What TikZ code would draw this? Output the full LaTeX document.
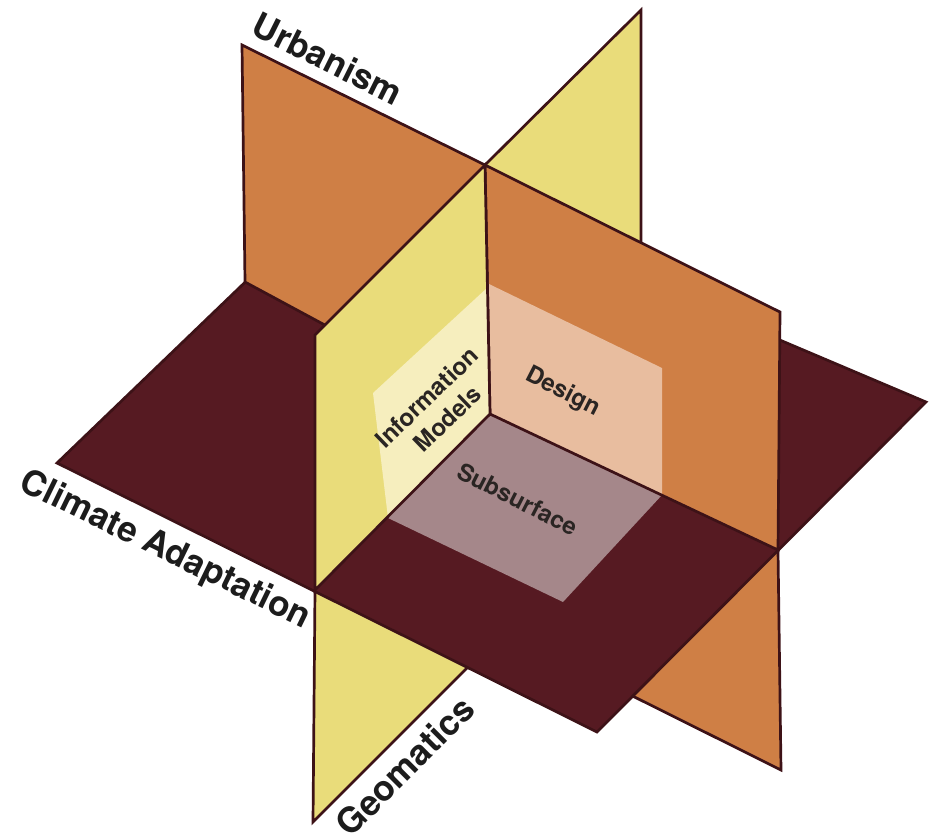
\documentclass[tikz,border=0pt]{standalone}
\usepackage{fontspec}
\setmainfont{TeX Gyre Heros}
\definecolor{orangeplane}{HTML}{CF7F45}
\definecolor{yellowplane}{HTML}{E9DC7A}
\definecolor{floorplane}{HTML}{561A22}
\definecolor{edgecol}{HTML}{3D1217}
\definecolor{infopatch}{HTML}{F6EEBE}
\definecolor{designpatch}{HTML}{E8BD9F}
\definecolor{subpatch}{HTML}{A5878A}
\definecolor{labeltext}{HTML}{1C1C1C}
\definecolor{innertext}{HTML}{2A2523}
\begin{document}
\begin{tikzpicture}[x=1pt,y=-1pt,
  plane/.style={draw=edgecol,line width=2.7pt,line join=miter},
  outerlabel/.style={text=labeltext,font=\fontsize{35}{40}\selectfont\bfseries,inner sep=0pt},
  innerlabel/.style={text=innertext,font=\fontsize{24}{30}\selectfont\bfseries,inner sep=0pt}]
\useasboundingbox (0,0) rectangle (932,838);

% common axis of the three planes
\coordinate (T) at (485,165);
\coordinate (O) at (490,414);
% vertical plane along the long axis (orange)
\coordinate (OTL) at (242,45);
\coordinate (OTR) at (780,312);
\coordinate (OFL) at (245,282);
\coordinate (OFR) at (778,550);
\coordinate (OBR) at (781,770);
\coordinate (OLB) at (490,625);
% vertical plane along the depth axis (yellow)
\coordinate (YTB) at (641,10);
\coordinate (YTF) at (315,335);
\coordinate (YBK) at (641,262);
\coordinate (YFF) at (315,590);
\coordinate (YBF) at (313,822);
\coordinate (YLB) at (490,645);
% horizontal plane (floor)
\coordinate (FL) at (57,463);
\coordinate (FF) at (597,732);
\coordinate (FR) at (926,402);
\coordinate (FB) at (367,165);
% light inner panels
\coordinate (IT) at (487,288);
\coordinate (IL) at (373,393);
\coordinate (SL) at (388,518);
\coordinate (DT) at (489,284);
\coordinate (DR) at (662,368);
\coordinate (DB) at (662,495);
\coordinate (SF) at (563,602);

% quarters below the floor
\filldraw[plane,fill=yellowplane] (O) -- (YFF) -- (YBF) -- (YLB) -- cycle;
\filldraw[plane,fill=orangeplane] (O) -- (OFR) -- (OBR) -- (OLB) -- cycle;

% floor with the subsurface panel
\filldraw[plane,fill=floorplane] (FL) -- (FF) -- (FR) -- (FB) -- cycle;
\fill[subpatch] (O) -- (DB) -- (SF) -- (SL) -- cycle;

% quarters above the floor, back to front
\filldraw[plane,fill=yellowplane] (T) -- (YTB) -- (YBK) -- (O) -- cycle;
\filldraw[plane,fill=orangeplane] (OTL) -- (T) -- (O) -- (OFL) -- cycle;

\fill[orangeplane] (T) -- (OTR) -- (OFR) -- (O) -- cycle;
\fill[designpatch] (DT) -- (DR) -- (DB) -- (O) -- cycle;
\draw[plane] (T) -- (OTR) -- (OFR) -- (O) -- cycle;

\fill[yellowplane] (YTF) -- (T) -- (O) -- (YFF) -- cycle;
\fill[infopatch] (IL) -- (IT) -- (O) -- (SL) -- cycle;
\draw[plane] (YTF) -- (T) -- (O) -- (YFF) -- cycle;

% labels
\node[outerlabel,rotate=-26.5,anchor=base] (urb) at (322,70) {Urbanism};
\node[outerlabel,rotate=-26,anchor=base] (clim) at (161,559) {Climate Adaptation};
\node[outerlabel,rotate=45] (geo) at (405,766) {Geomatics};
\node[innerlabel,rotate=44,align=center] (info) at (437,408) {Information\\Models};
\node[innerlabel,rotate=-27] (des) at (563,392) {Design};
\node[innerlabel,rotate=-27] (sub) at (518,499) {Subsurface};
\end{tikzpicture}
\end{document}
